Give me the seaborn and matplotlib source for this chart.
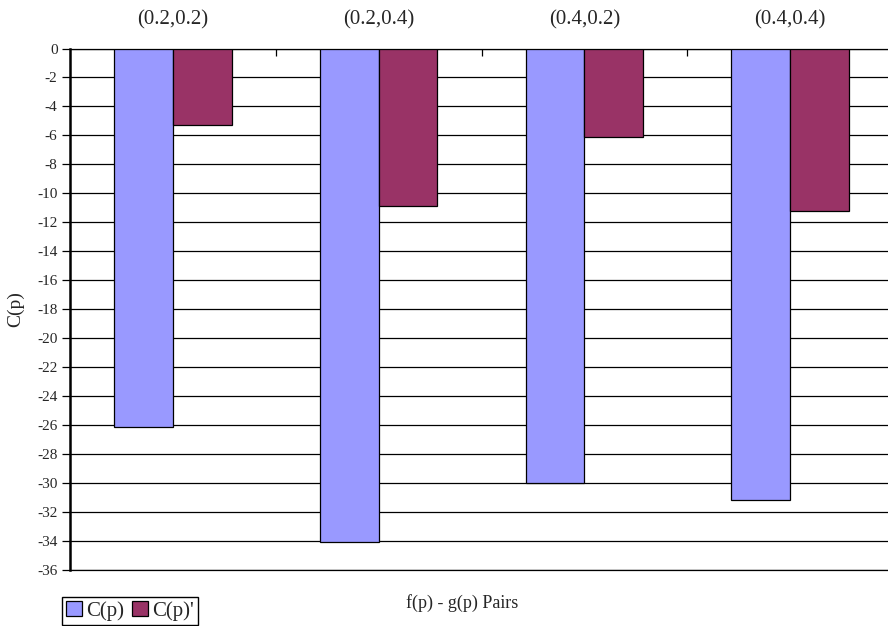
import matplotlib
matplotlib.use("Agg")
import matplotlib.pyplot as plt
import matplotlib.patches as mpatches
import seaborn as sns
import pandas as pd
import numpy as np

# Values per f(p)-g(p) pair
pairs = ["(0.2,0.2)", "(0.2,0.4)", "(0.4,0.2)", "(0.4,0.4)"]
c_p = [-26.1, -34.1, -30.0, -31.15]
c_p_prime = [-5.25, -10.9, -6.1, -11.25]
series_names = ["C(p)", "C(p)'"]
colors = ["#9999FF", "#993366"]
y_ticks = list(range(0, -37, -2))

df = pd.DataFrame({
    "pair": pairs * 2,
    "value": c_p + c_p_prime,
    "series": [series_names[0]] * len(pairs) + [series_names[1]] * len(pairs),
})

sns.set_style("white")
plt.rcParams["font.family"] = ["Liberation Serif", "DejaVu Serif"]

W, H = 888, 626
fig = plt.figure(figsize=(W / 100, H / 100), dpi=100)
left, right, top, bottom = 70, 893, 48.5, 570
ax = fig.add_axes([left / W, 1 - bottom / H, (right - left) / W, (bottom - top) / H])

sns.barplot(data=df, x="pair", y="value", hue="series", order=pairs,
            hue_order=series_names, palette=colors, width=0.57, gap=0,
            edgecolor="black", linewidth=0.9, saturation=1, ax=ax,
            legend=False, zorder=3)

ax.set_ylim(-36, 0)
ax.set_xlim(-0.5, len(pairs) - 0.5)
ax.set_yticks(y_ticks)
ax.set_yticklabels([str(t) for t in y_ticks], fontsize=11)
for t in y_ticks:
    ax.axhline(t, color="black", lw=0.9, zorder=1)

# Category labels along the top (zero) axis
ax.xaxis.tick_top()
ax.set_xticks(range(len(pairs)))
ax.set_xticklabels(pairs, fontsize=15)
ax.tick_params(axis="x", which="major", length=0, pad=14)
ax.set_xticks([i + 0.5 for i in range(len(pairs) - 1)], minor=True)
ax.tick_params(axis="x", which="minor", direction="in", length=5, width=0.9,
               color="black", top=True, bottom=False)
ax.tick_params(axis="y", direction="out", length=6, width=0.9, color="black",
               left=True, pad=3)
ax.set_xlabel("")
ax.set_ylabel("")

for side in ["top", "bottom", "right"]:
    ax.spines[side].set_visible(True)
    ax.spines[side].set_color("black")
    ax.spines[side].set_linewidth(0.9)
ax.spines["left"].set_color("black")
ax.spines["left"].set_linewidth(1.8)

fig.text(16 / W, 1 - 309 / H, "C(p)", rotation=90, ha="center", va="center", fontsize=14)
fig.text(462 / W, 1 - 603 / H, "f(p) - g(p) Pairs", ha="center", va="center", fontsize=13)

handles = [mpatches.Patch(facecolor=c, edgecolor="black", linewidth=0.9) for c in colors]
fig.legend(handles, series_names, loc="lower left",
           bbox_to_anchor=(62 / W, 1 - 625 / H), ncol=2, fontsize=15,
           frameon=True, fancybox=False, edgecolor="black", framealpha=1,
           handlelength=0.75, handleheight=0.75, handletextpad=0.2,
           columnspacing=0.4, borderpad=0.2, borderaxespad=0)

fig.savefig("out.png", dpi=100)
